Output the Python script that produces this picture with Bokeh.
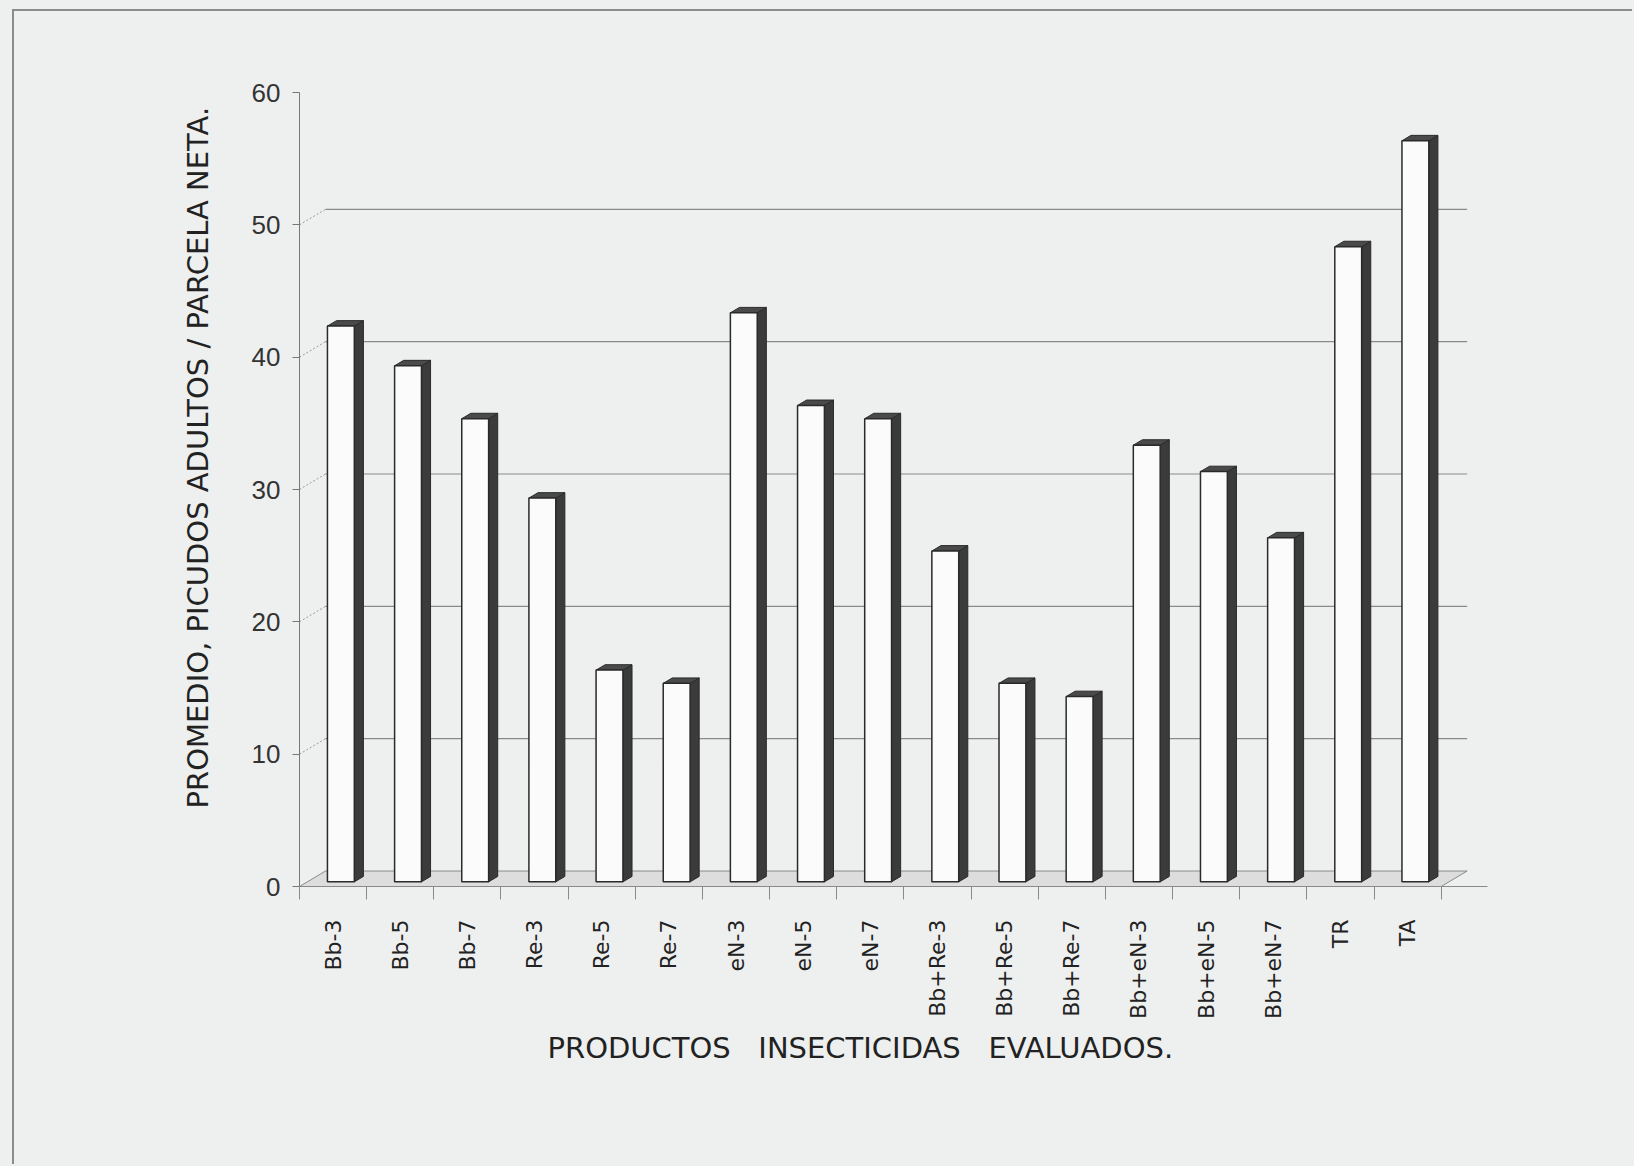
from bokeh.plotting import figure
from bokeh.models import Range1d, FixedTicker, Title
from bokeh.embed import file_html
from bokeh.resources import INLINE
import math

# Treatments and mean adult weevils per net plot
categories = ["Bb-3", "Bb-5", "Bb-7", "Re-3", "Re-5", "Re-7",
              "eN-3", "eN-5", "eN-7",
              "Bb+Re-3", "Bb+Re-5", "Bb+Re-7",
              "Bb+eN-3", "Bb+eN-5", "Bb+eN-7", "TR", "TA"]
values = [42, 39, 35, 29, 16, 15, 43, 36, 35, 25, 15, 14, 33, 31, 26, 48, 56]
y_ticks = [0, 10, 20, 30, 40, 50, 60]
grid_levels = [10, 20, 30, 40, 50]

BG = "#eef0ef"
LABEL_FONT = "DejaVu Sans"
GAP = "\u00a0" * 3   # wide word gaps in the x title

# pseudo-3D depth offsets (data units)
DX = 0.387
DY = 1.17
F_FRONT = 0.30
F_BACK = 0.65
HALF_W = 0.20

n = len(categories)
x_lo = -0.5
x_hi = n - 0.5

p = figure(width=1620, height=1155,
           x_range=Range1d(x_lo, 17.19), y_range=Range1d(0, 60),
           output_backend="svg", toolbar_location=None,
           background_fill_color=BG, border_fill_color=BG,
           min_border_left=285, min_border_right=147,
           min_border_top=81, min_border_bottom=280)
p.outline_line_color = None
p.xgrid.grid_line_color = None
p.ygrid.grid_line_color = None
p.styles = {"margin-left": "12px", "margin-top": "9px",
            "border-left": "2px solid #8c8c8c",
            "border-top": "2px solid #8c8c8c"}

# back wall grid lines and the side-wall connectors
for v in grid_levels:
    p.line([x_lo + DX, x_hi + DX], [v + DY, v + DY],
           line_color="#8a8a8a", line_width=1.2)
    p.line([x_lo, x_lo + DX], [v, v + DY],
           line_color="#9a9a9a", line_width=1, line_dash="2 2")

# floor
p.patch([x_lo, x_hi, x_hi + DX, x_lo + DX], [0, 0, DY, DY],
        fill_color="#dcdddc", line_color="#8a8a8a", line_width=1)

# bars: right side face, top face, front face
centers = list(range(n))
side_xs, side_ys, top_xs, top_ys = [], [], [], []
for c, v in zip(centers, values):
    x0 = c - HALF_W
    x1 = c + HALF_W
    side_xs.append([x1 + F_FRONT * DX, x1 + F_BACK * DX, x1 + F_BACK * DX, x1 + F_FRONT * DX])
    side_ys.append([F_FRONT * DY, F_BACK * DY, v + F_BACK * DY, v + F_FRONT * DY])
    top_xs.append([x0 + F_FRONT * DX, x1 + F_FRONT * DX, x1 + F_BACK * DX, x0 + F_BACK * DX])
    top_ys.append([v + F_FRONT * DY, v + F_FRONT * DY, v + F_BACK * DY, v + F_BACK * DY])

p.patches(side_xs, side_ys, fill_color="#3b3b3b", line_color="#2a2a2a", line_width=1)
p.patches(top_xs, top_ys, fill_color="#4a4a4a", line_color="#2a2a2a", line_width=1)
p.quad(left=[c - HALF_W + F_FRONT * DX for c in centers],
       right=[c + HALF_W + F_FRONT * DX for c in centers],
       bottom=[F_FRONT * DY] * n,
       top=[v + F_FRONT * DY for v in values],
       fill_color="#fbfbfb", line_color="#2a2a2a", line_width=1.5)

# x axis: labels at category centres, tick marks at boundaries
xa = p.xaxis[0]
xa.ticker = FixedTicker(ticks=centers, minor_ticks=[i - 0.5 for i in range(n + 1)])
xa.major_label_overrides = {c: lab for c, lab in zip(centers, categories)}
xa.major_label_orientation = math.pi / 2
xa.major_tick_line_color = None
xa.major_tick_out = 0
xa.major_tick_in = 0
xa.minor_tick_out = 13
xa.minor_tick_in = 0
xa.minor_tick_line_color = "#8a8a8a"
xa.axis_line_color = "#8a8a8a"
xa.major_label_standoff = 20
xa.major_label_text_font = LABEL_FONT
xa.major_label_text_font_size = "22px"
xa.major_label_text_color = "#222222"

# y axis
ya = p.yaxis[0]
ya.ticker = FixedTicker(ticks=y_ticks)
ya.minor_tick_line_color = None
ya.major_tick_out = 7
ya.major_tick_in = 0
ya.major_tick_line_color = "#777777"
ya.axis_line_color = "#777777"
ya.major_label_standoff = 12
ya.major_label_text_font = "Liberation Sans"
ya.major_label_text_font_size = "26px"
ya.major_label_text_color = "#333333"

# axis titles
p.add_layout(Title(text="PRODUCTOS" + GAP + "INSECTICIDAS" + GAP + "EVALUADOS.",
                   align="left", offset=248, standoff=15,
                   text_font=LABEL_FONT, text_font_size="29px",
                   text_font_style="normal", text_color="#222222"), "below")
p.add_layout(Title(text="PROMEDIO, PICUDOS ADULTOS / PARCELA NETA.",
                   align="left", offset=78, standoff=68,
                   text_font=LABEL_FONT, text_font_size="29px",
                   text_font_style="normal", text_color="#222222"), "left")

html = file_html(p, INLINE)
html = html.replace("<head>", "<head><style>html, body { margin: 0; background: %s; }</style>" % BG, 1)
open("out.html", "w").write(html)
